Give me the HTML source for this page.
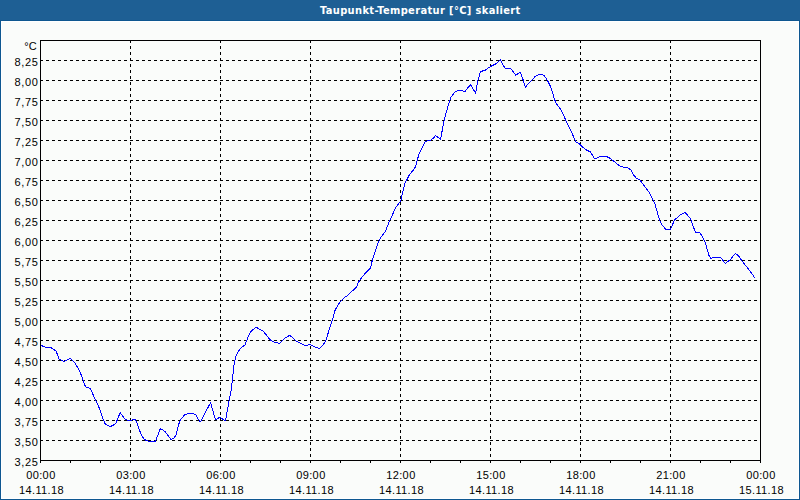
<!DOCTYPE html>
<html><head><meta charset="utf-8"><style>
html,body{margin:0;padding:0;background:#fafcfa;}
#w{position:relative;width:800px;height:500px;overflow:hidden;background:#fafcfa;}
#tb{position:absolute;left:0;top:0;width:800px;height:20px;background:#1e5f94;}
#tl{position:absolute;left:0;top:20px;width:800px;height:1px;background:#0e5790;}
#bl{position:absolute;left:0;top:20px;width:1px;height:480px;background:#0e5790;}
#br{position:absolute;left:799px;top:20px;width:1px;height:480px;background:#0e5790;}
#bb{position:absolute;left:0;top:499px;width:800px;height:1px;background:#0e5790;}
#hl{position:absolute;left:1px;top:21px;width:796px;height:476px;border:1px solid #fff;}
#tt{position:absolute;left:320px;top:3px;font:bold 11px "DejaVu Sans Condensed","DejaVu Sans",sans-serif;font-stretch:condensed;letter-spacing:0.36px;color:#fff;white-space:nowrap;line-height:16px;}
svg{position:absolute;left:0;top:0;}
text{font-family:"Liberation Sans",sans-serif;font-size:11px;fill:#000;}
.yl{letter-spacing:0.6px;}
.xl{letter-spacing:0.4px;}
</style></head><body><div id="w">
<div id="tb"></div><div id="tl"></div><div id="bl"></div><div id="br"></div><div id="bb"></div><div id="hl"></div>
<div id="tt">Taupunkt-Temperatur [°C] skaliert</div>
<svg width="800" height="500" viewBox="0 0 800 500">
<g stroke="#000" stroke-width="1" stroke-dasharray="3 3" shape-rendering="crispEdges">
<line x1="40" y1="60.5" x2="761" y2="60.5"/><line x1="40" y1="80.5" x2="761" y2="80.5"/><line x1="40" y1="100.5" x2="761" y2="100.5"/><line x1="40" y1="120.5" x2="761" y2="120.5"/><line x1="40" y1="140.5" x2="761" y2="140.5"/><line x1="40" y1="160.5" x2="761" y2="160.5"/><line x1="40" y1="180.5" x2="761" y2="180.5"/><line x1="40" y1="200.5" x2="761" y2="200.5"/><line x1="40" y1="220.5" x2="761" y2="220.5"/><line x1="40" y1="240.5" x2="761" y2="240.5"/><line x1="40" y1="260.5" x2="761" y2="260.5"/><line x1="40" y1="280.5" x2="761" y2="280.5"/><line x1="40" y1="300.5" x2="761" y2="300.5"/><line x1="40" y1="320.5" x2="761" y2="320.5"/><line x1="40" y1="340.5" x2="761" y2="340.5"/><line x1="40" y1="360.5" x2="761" y2="360.5"/><line x1="40" y1="380.5" x2="761" y2="380.5"/><line x1="40" y1="400.5" x2="761" y2="400.5"/><line x1="40" y1="420.5" x2="761" y2="420.5"/><line x1="40" y1="440.5" x2="761" y2="440.5"/><line x1="130.5" y1="40" x2="130.5" y2="461"/><line x1="220.5" y1="40" x2="220.5" y2="461"/><line x1="310.5" y1="40" x2="310.5" y2="461"/><line x1="400.5" y1="40" x2="400.5" y2="461"/><line x1="490.5" y1="40" x2="490.5" y2="461"/><line x1="580.5" y1="40" x2="580.5" y2="461"/><line x1="670.5" y1="40" x2="670.5" y2="461"/>
</g>
<path d="M40.6 345.2 L44.6 347.0 L50.0 347.0 L53.6 349.4 L56.0 351.2 L57.8 355.4 L59.4 359.6 L61.4 360.2 L63.8 361.6 L66.8 360.2 L70.4 358.4 L72.4 360.4 L75.4 363.6 L78.2 368.6 L80.6 373.4 L83.0 380.0 L85.4 386.6 L89.6 388.4 L90.4 388.4 L92.8 394.0 L95.8 400.6 L100.0 409.6 L103.0 418.6 L104.8 423.4 L107.2 425.2 L110.2 426.6 L113.2 425.2 L115.8 423.4 L117.8 418.6 L120.2 412.6 L122.8 416.2 L125.2 419.6 L128.8 420.4 L132.4 420.0 L135.4 419.8 L137.2 423.4 L139.6 430.6 L141.4 434.8 L144.4 439.6 L148.4 441.2 L152.0 441.5 L155.6 441.0 L158.0 434.6 L160.4 428.6 L162.8 430.0 L165.2 431.6 L168.2 435.8 L171.0 439.4 L173.6 438.2 L175.8 435.8 L177.2 429.8 L179.6 421.4 L182.0 417.8 L185.0 414.6 L189.2 413.2 L192.8 413.6 L195.8 414.8 L198.2 419.0 L200.4 422.0 L203.4 416.0 L207.0 409.4 L210.6 402.6 L213.0 411.2 L215.4 419.4 L217.6 418.7 L219.6 417.2 L222.0 418.7 L225.6 420.8 L226.8 413.6 L229.2 400.4 L231.0 390.8 L232.4 380.0 L233.4 370.4 L234.4 362.0 L235.8 356.6 L238.2 351.8 L240.4 348.6 L243.0 346.4 L245.2 344.6 L247.2 339.2 L250.2 332.4 L253.2 329.4 L256.0 327.2 L259.2 329.0 L263.4 331.4 L266.4 335.0 L269.4 339.2 L272.4 341.4 L275.4 342.4 L279.6 343.4 L282.4 340.8 L285.4 337.8 L289.8 335.2 L292.6 337.8 L296.2 341.2 L300.4 343.2 L304.6 345.4 L307.0 345.4 L309.4 344.4 L312.4 345.8 L316.0 347.4 L319.6 348.6 L322.6 345.6 L325.6 341.4 L328.0 333.6 L330.4 325.8 L332.6 319.2 L334.6 311.4 L336.4 307.8 L338.6 304.0 L341.6 300.2 L344.6 297.4 L347.6 295.4 L351.8 291.4 L356.4 287.2 L357.8 283.6 L359.6 280.4 L362.6 276.2 L366.4 272.2 L370.4 268.0 L371.4 264.4 L372.2 260.6 L373.6 256.6 L374.6 253.0 L376.0 249.0 L377.8 243.6 L379.6 239.4 L382.0 235.8 L385.6 231.0 L387.4 226.2 L389.8 220.2 L392.2 215.4 L394.0 211.2 L396.2 207.0 L399.4 202.8 L401.0 199.8 L401.8 196.2 L403.4 189.0 L404.8 183.6 L407.0 179.4 L409.4 174.6 L413.0 170.4 L415.4 166.8 L416.8 162.0 L418.4 156.0 L420.2 151.2 L423.0 146.0 L425.2 141.6 L427.4 141.0 L431.0 140.0 L433.4 138.0 L435.6 135.6 L438.2 137.4 L440.6 139.8 L442.2 130.4 L444.0 120.8 L446.4 111.8 L448.8 103.4 L451.2 96.8 L455.4 91.4 L459.0 90.6 L462.0 90.6 L465.0 91.6 L467.6 88.2 L470.4 84.6 L473.2 89.0 L475.6 93.2 L477.4 82.4 L480.4 71.6 L485.2 70.2 L490.0 66.8 L496.0 63.8 L500.2 59.6 L502.6 64.4 L505.0 68.2 L510.4 68.2 L513.4 72.2 L515.8 75.2 L518.2 73.4 L520.6 72.6 L523.0 79.4 L525.4 87.2 L528.4 83.6 L532.0 80.0 L535.4 76.2 L538.4 74.6 L540.8 74.2 L543.8 75.4 L546.2 78.0 L548.0 81.6 L551.0 87.6 L552.8 93.6 L554.6 99.6 L556.4 103.8 L559.4 107.4 L562.4 112.8 L566.0 120.8 L569.0 126.8 L572.0 132.8 L574.4 139.4 L576.2 142.2 L579.8 144.2 L582.8 147.2 L585.8 149.6 L590.6 152.0 L593.0 156.2 L595.0 159.2 L597.2 157.8 L600.8 156.2 L605.6 156.2 L609.2 157.8 L612.8 160.4 L616.4 163.4 L620.4 166.4 L623.4 167.2 L627.0 167.6 L630.6 169.6 L633.0 174.2 L636.0 177.8 L640.2 180.2 L643.2 184.4 L646.2 188.6 L649.2 192.2 L651.6 197.0 L653.4 200.4 L655.2 204.2 L656.6 210.0 L658.4 216.0 L660.2 221.4 L662.0 224.8 L665.6 229.2 L668.0 229.4 L670.6 229.2 L672.2 225.2 L674.6 220.0 L677.6 217.2 L680.6 214.6 L684.8 212.4 L687.2 214.8 L690.2 218.4 L692.0 222.6 L693.8 228.0 L695.6 232.2 L699.8 232.4 L702.2 236.4 L705.6 243.5 L707.2 249.5 L709.0 255.4 L710.8 258.4 L713.2 257.4 L720.4 257.4 L722.8 260.2 L725.2 263.4 L728.2 261.4 L731.2 258.8 L733.0 256.0 L735.4 253.6 L738.4 255.6 L740.2 258.2 L742.4 261.4 L746.2 266.2 L750.4 271.6 L754.6 277.6" fill="none" stroke="#0000ff" stroke-width="1" stroke-linejoin="round" shape-rendering="crispEdges"/>
<rect x="40.5" y="40.5" width="720" height="420" fill="none" stroke="#000" shape-rendering="crispEdges"/>
<path d="M40.5 460 V463 M70.5 460 V463 M100.5 460 V463 M130.5 460 V463 M160.5 460 V463 M190.5 460 V463 M220.5 460 V463 M250.5 460 V463 M280.5 460 V463 M310.5 460 V463 M340.5 460 V463 M370.5 460 V463 M400.5 460 V463 M430.5 460 V463 M460.5 460 V463 M490.5 460 V463 M520.5 460 V463 M550.5 460 V463 M580.5 460 V463 M610.5 460 V463 M640.5 460 V463 M670.5 460 V463 M700.5 460 V463 M730.5 460 V463 M760.5 460 V463" stroke="#000" shape-rendering="crispEdges"/>
<text x="36.6" y="50" text-anchor="end">°C</text>
<text class="yl" x="38.4" y="66" text-anchor="end">8,25</text><text class="yl" x="38.4" y="86" text-anchor="end">8,00</text><text class="yl" x="38.4" y="106" text-anchor="end">7,75</text><text class="yl" x="38.4" y="126" text-anchor="end">7,50</text><text class="yl" x="38.4" y="146" text-anchor="end">7,25</text><text class="yl" x="38.4" y="166" text-anchor="end">7,00</text><text class="yl" x="38.4" y="186" text-anchor="end">6,75</text><text class="yl" x="38.4" y="206" text-anchor="end">6,50</text><text class="yl" x="38.4" y="226" text-anchor="end">6,25</text><text class="yl" x="38.4" y="246" text-anchor="end">6,00</text><text class="yl" x="38.4" y="266" text-anchor="end">5,75</text><text class="yl" x="38.4" y="286" text-anchor="end">5,50</text><text class="yl" x="38.4" y="306" text-anchor="end">5,25</text><text class="yl" x="38.4" y="326" text-anchor="end">5,00</text><text class="yl" x="38.4" y="346" text-anchor="end">4,75</text><text class="yl" x="38.4" y="366" text-anchor="end">4,50</text><text class="yl" x="38.4" y="386" text-anchor="end">4,25</text><text class="yl" x="38.4" y="406" text-anchor="end">4,00</text><text class="yl" x="38.4" y="426" text-anchor="end">3,75</text><text class="yl" x="38.4" y="446" text-anchor="end">3,50</text><text class="yl" x="38.4" y="466" text-anchor="end">3,25</text>
<text class="xl" x="40.9" y="479" text-anchor="middle">00:00</text><text class="xl" x="41.5" y="494" text-anchor="middle">14.11.18</text><text class="xl" x="130.9" y="479" text-anchor="middle">03:00</text><text class="xl" x="131.5" y="494" text-anchor="middle">14.11.18</text><text class="xl" x="220.9" y="479" text-anchor="middle">06:00</text><text class="xl" x="221.5" y="494" text-anchor="middle">14.11.18</text><text class="xl" x="310.9" y="479" text-anchor="middle">09:00</text><text class="xl" x="311.5" y="494" text-anchor="middle">14.11.18</text><text class="xl" x="400.9" y="479" text-anchor="middle">12:00</text><text class="xl" x="401.5" y="494" text-anchor="middle">14.11.18</text><text class="xl" x="490.9" y="479" text-anchor="middle">15:00</text><text class="xl" x="491.5" y="494" text-anchor="middle">14.11.18</text><text class="xl" x="580.9" y="479" text-anchor="middle">18:00</text><text class="xl" x="581.5" y="494" text-anchor="middle">14.11.18</text><text class="xl" x="670.9" y="479" text-anchor="middle">21:00</text><text class="xl" x="671.5" y="494" text-anchor="middle">14.11.18</text><text class="xl" x="760.9" y="479" text-anchor="middle">00:00</text><text class="xl" x="761.5" y="494" text-anchor="middle">15.11.18</text>
</svg>
</div></body></html>
